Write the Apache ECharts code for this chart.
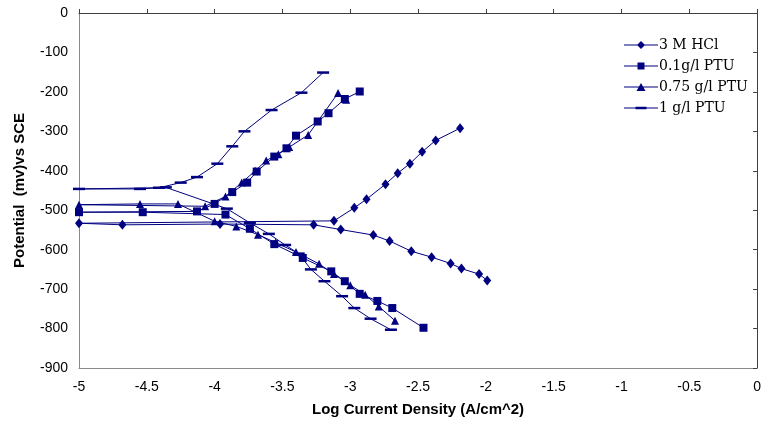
<!DOCTYPE html>
<html>
<head>
<meta charset="utf-8">
<script src="https://cdn.jsdelivr.net/npm/echarts@6/dist/echarts.min.js"></script>
<style>
html,body{margin:0;padding:0;background:#fff;}
#chart{width:764px;height:437px;}
</style>
</head>
<body>
<div id="chart"></div>
<script>
// Series names
var seriesNames = ['3 M HCl', '0.1g/l PTU', '0.75 g/l PTU', '1 g/l PTU'];

// 3 M HCl (diamonds)
var hclX = [-1.99, -2.05, -2.18, -2.26, -2.40, -2.55, -2.71, -2.83, -3.07, -3.27, -3.96, -4.68, -5.00, -3.12, -2.97, -2.88, -2.74, -2.65, -2.56, -2.47, -2.37, -2.19];
var hclY = [-678, -662, -648, -635, -619, -604, -578, -563, -549, -537, -535, -537, -533, -527, -494, -472, -434, -406, -382, -352, -323, -292];

// 0.1 g/l PTU (squares)
var p01X = [-2.46, -2.69, -2.80, -2.93, -3.04, -3.14, -3.35, -3.56, -3.74, -3.92, -4.53, -5.00, -4.13, -4.00, -3.87, -3.76, -3.69, -3.56, -3.47, -3.40, -3.24, -3.16, -3.04, -2.93];
var p01Y = [-798, -748, -730, -712, -680, -655, -621, -586, -547, -511, -505, -505, -503, -484, -454, -430, -402, -364, -343, -311, -275, -254, -218, -199];

// 0.75 g/l PTU (triangles)
var p075X = [-2.67, -2.79, -2.89, -3.00, -3.12, -3.23, -3.40, -3.55, -3.68, -3.84, -4.00, -4.27, -4.55, -5.00, -4.07, -3.92, -3.80, -3.70, -3.62, -3.53, -3.45, -3.31, -3.09, -3.03];
var p075Y = [-780, -744, -714, -690, -662, -636, -606, -582, -562, -541, -528, -484, -484, -486, -490, -465, -430, -400, -374, -358, -340, -309, -203, -220];

// 1 g/l PTU (dashes)
var p1X = [-2.70, -2.85, -2.97, -3.06, -3.19, -3.29, -3.38, -3.48, -3.60, -3.74, -3.91, -4.36, -4.55, -5.00, -4.41, -4.25, -4.13, -3.98, -3.87, -3.78, -3.58, -3.36, -3.20];
var p1Y = [-803, -775, -748, -718, -680, -650, -610, -588, -560, -532, -496, -442, -446, -446, -443, -430, -416, -382, -338, -300, -246, -202, -151];

var xMin = -5, xMax = 0, xStep = 0.5;
var yMin = -900, yMax = 0, yStep = 100;

function zip(xs, ys) { return xs.map(function (x, i) { return [x, ys[i]]; }); }

var navy = '#000080';
var labelFont = 'Liberation Sans, Arial, sans-serif';

// legend icons: line with the series marker in the middle
var lineP = 'M0,4.5H34V5.5H0Z ';
var legendIcons = [
  'path://' + lineP + 'M17,1L21,5L17,9L13,5Z',
  'path://' + lineP + 'M13.5,1.5H20.5V8.5H13.5Z',
  'path://' + lineP + 'M17,1L21.5,9H12.5Z',
  'path://' + lineP + 'M11.5,3.8H22.5V6.2H11.5Z'
];

function mk(name, data, symbol, size) {
  return {
    name: name, type: 'line', data: data,
    xAxisIndex: 0, yAxisIndex: 0,
    symbol: symbol, symbolSize: size, showSymbol: true,
    lineStyle: { color: navy, width: 1 },
    itemStyle: { color: navy },
    emphasis: { disabled: true },
    animation: false
  };
}

var chart = echarts.init(document.getElementById('chart'), null, { renderer: 'canvas' });
chart.setOption({
  backgroundColor: '#fff',
  animation: false,
  grid: { left: 79, right: 1, top: 13, bottom: 69, containLabel: false },
  legend: {
    orient: 'vertical', left: 619, top: 32,
    itemWidth: 34, itemHeight: 10, itemGap: 5, symbolKeepAspect: true,
    textStyle: { fontFamily: 'DejaVu Serif, Liberation Serif, serif', fontSize: 14, color: '#000', lineHeight: 16, padding: [0, 0, 0, -4] },
    data: seriesNames.map(function (n, i) { return { name: n, icon: legendIcons[i] }; })
  },
  xAxis: [
    {
      type: 'value', min: xMin, max: xMax, interval: xStep, position: 'bottom',
      axisLine: { show: true, onZero: false, lineStyle: { color: '#8a8a8a', width: 1 } },
      axisTick: { show: false }, splitLine: { show: false },
      axisLabel: { color: '#000', fontSize: 14, fontFamily: labelFont, margin: 12 },
      name: 'Log Current Density (A/cm^2)', nameLocation: 'middle', nameGap: 34,
      nameTextStyle: { color: '#000', fontSize: 15, fontWeight: 'bold', fontFamily: labelFont }
    },
    {
      type: 'value', min: xMin, max: xMax, interval: xStep, position: 'top',
      axisLine: { show: true, onZero: false, lineStyle: { color: '#404040', width: 1 } },
      axisTick: { show: true, length: 4, lineStyle: { color: '#404040' } },
      axisLabel: { show: false }, splitLine: { show: false }
    }
  ],
  yAxis: [
    {
      type: 'value', min: yMin, max: yMax, interval: yStep, position: 'left',
      axisLine: { show: true, onZero: false, lineStyle: { color: '#8a8a8a', width: 1 } },
      axisTick: { show: false }, splitLine: { show: false },
      axisLabel: { color: '#000', fontSize: 14, fontFamily: labelFont, margin: 11 },
      name: 'Potential  (mv)vs SCE', nameLocation: 'middle', nameGap: 52,
      nameTextStyle: { color: '#000', fontSize: 15, fontWeight: 'bold', fontFamily: labelFont }
    },
    {
      type: 'value', min: yMin, max: yMax, interval: yStep, position: 'right',
      axisLine: { show: true, onZero: false, lineStyle: { color: '#404040', width: 1 } },
      axisTick: { show: true, inside: true, length: 4, lineStyle: { color: '#404040' } },
      axisLabel: { show: false }, splitLine: { show: false }
    }
  ],
  series: [
    mk(seriesNames[0], zip(hclX, hclY), 'diamond', [8, 10]),
    mk(seriesNames[1], zip(p01X, p01Y), 'rect', 8),
    mk(seriesNames[2], zip(p075X, p075Y), 'triangle', 8),
    mk(seriesNames[3], zip(p1X, p1Y), 'rect', [12, 2.5])
  ]
});
</script>
</body>
</html>
